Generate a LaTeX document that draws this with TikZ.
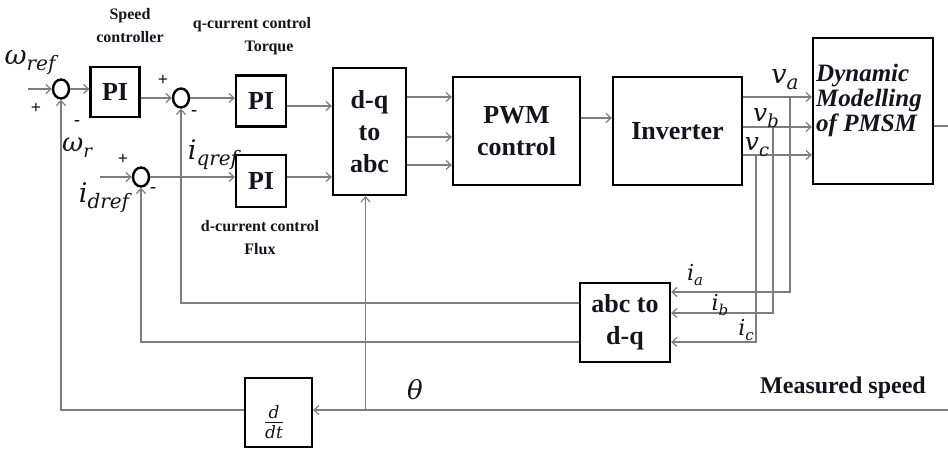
\documentclass[tikz,border=0pt]{standalone}
\usepackage{fontspec}
\setmainfont{Liberation Serif}
\newfontfamily\dvfont{DejaVu Serif}
\usepackage{amsmath}
\usetikzlibrary{arrows.meta,calc,shapes.geometric}
\definecolor{figwire}{RGB}{125,125,125}
\definecolor{figink}{RGB}{20,20,28}
\tikzset{
  blk/.style  ={draw=black,line width=2.2pt,fill=white,inner sep=0pt,align=center,
                text=figink,font=\bfseries\fontsize{26}{32}\selectfont},
  sumc/.style ={ellipse,draw=black,line width=2.4pt,inner sep=0pt,minimum width=16pt,minimum height=19pt},
  wire/.style ={draw=figwire,line width=1.4pt},
  sig/.style  ={wire,-{Straight Barb[length=5pt,width=9pt,line width=1.2pt]}},
  ttl/.style  ={inner sep=0pt,align=center,text=figink,font=\bfseries\fontsize{16}{23}\selectfont},
  sgn/.style  ={inner sep=0pt,text=figink,font=\bfseries\fontsize{18}{18}\selectfont},
  var/.style  ={inner sep=0pt,text=figink},
}
\newcommand{\vlab}[4]{{\dvfont\itshape\fontsize{#1}{#1}\selectfont #3\raisebox{-0.22em}{\fontsize{#2}{#2}\selectfont #4}}}
\newcommand{\dtfrac}{{\dvfont\itshape\fontsize{17}{17}\selectfont
  $\genfrac{}{}{1.3pt}{}{\hbox{d}\rule[-2pt]{0pt}{2pt}}{\hbox{dt}\rule{0pt}{14pt}}$}}

\begin{document}
\begin{tikzpicture}[x=1pt,y=-1pt]
  \useasboundingbox (0,0) rectangle (948,448);
  % blocks
  \node[sumc] (S1) at (61,89) {};
  \node[blk,minimum width=49pt,minimum height=50pt] (PIw) at (115,92) {PI};
  \node[sumc] (S2) at (181,98) {};
  \node[blk,minimum width=50pt,minimum height=51pt] (PIq) at (261,101) {PI};
  \node[sumc] (S3) at (141,177) {};
  \node[blk,minimum width=50pt,minimum height=52pt] (PId) at (261,181) {PI};
  \node[blk,minimum width=73pt,minimum height=127pt] (DQ) at (369.5,131.5) {d-q\\to\\abc};
  \node[blk,minimum width=127pt,minimum height=108pt] (PWM) at (516.5,131) {PWM\\control};
  \node[blk,minimum width=129pt,minimum height=108pt] (INV) at (677.5,131) {Inverter};
  \node[blk,minimum width=120pt,minimum height=146pt] (PM) at (873,111) {};
  \node[var,align=left,anchor=west,font=\bfseries\itshape\fontsize{25}{25}\selectfont] (PMtxt) at (816,100) {Dynamic\\Modelling\\of PMSM};
  \node[blk,minimum width=90pt,minimum height=79pt] (ABC) at (625,322.5) {abc to\\d-q};
  \node[blk,minimum width=67pt,minimum height=69pt] (DDT) at (278.5,412.5) {};
  \node[var] (DDTtxt) at (274,422) {\dtfrac};
  % free ends
  \coordinate (wIn) at (28,89);
  \coordinate (dIn) at (100,177);
  \coordinate (outR) at (948,126);
  \coordinate (spdR) at (948,410);
  % forward path
  \draw[sig] (wIn) -- (S1);
  \draw[sig] (S1) -- (S1 -| PIw.west);
  \draw[sig] (PIw.east |- S2) -- (S2);
  \draw[sig] (S2) -- (S2 -| PIq.west);
  \draw[sig] (dIn) -- (S3);
  \draw[sig] (S3) -- (S3 -| PId.west);
  \draw[sig] ([yshift=-5pt]PIq.east) -- ([yshift=-5pt]PIq.east -| DQ.west);
  \draw[sig] (PId.east |- S3) -- (S3 -| DQ.west);
  \foreach \yy in {97,137,165}
    \draw[sig] (DQ.east |- 0,\yy) -- (PWM.west |- 0,\yy);
  \draw[sig] (PWM.east |- 0,118) -- (INV.west |- 0,118);
  \foreach \n/\yy/\xx/\yi in {a/97/790/292,b/127/773/313,c/155/756/342}{
    \draw[sig] (INV.east |- 0,\yy) -- (PM.west |- 0,\yy);
    \coordinate (t\n) at (\xx,\yy);
    \draw[sig] (t\n) |- (ABC.east |- 0,\yi);
  }
  \draw[wire] (PM.east |- outR) -- (outR);
  % feedback
  \draw[sig] (ABC.west |- 0,303) -| (S2);
  \draw[sig] (ABC.west |- 0,342) -| (S3);
  \draw[sig] (spdR) -- (DDT.east |- spdR);
  \draw[sig] (DDT.west |- spdR) -| (S1);
  \draw[sig] ([xshift=-4pt]DQ.south |- spdR) -- ([xshift=-4pt]DQ.south);
  % texts
  \node[ttl] (tSpd) at (130,26) {Speed\\controller};
  \node[ttl] (tQa) at (252,25) {q-current control};
  \node[ttl] (tQb) at (269,48) {Torque};
  \node[ttl] (tD) at (260,238) {d-current control\\Flux};
  \node[ttl,font=\bfseries\fontsize{24}{24}\selectfont] (tMs) at (843,388) {Measured speed};
  \node[var] (lwr) at (30,63) {\vlab{27}{20}{ω}{ref}};
  \node[var] (lw) at (77,148) {\vlab{26}{18}{ω}{r}};
  \node[var] (liq) at (213,155) {\vlab{27}{20}{i}{qref}};
  \node[var] (lid) at (104,198) {\vlab{27}{20}{i}{dref}};
  \node[var] (lva) at (785,80) {\vlab{27}{20}{v}{a}};
  \node[var] (lvb) at (766,118) {\vlab{25}{18}{v}{b}};
  \node[var] (lvc) at (757,147) {\vlab{25}{18}{v}{c}};
  \node[var] (lia) at (695,275) {\vlab{22}{15}{i}{a}};
  \node[var] (lib) at (720,305) {\vlab{22}{15}{i}{b}};
  \node[var] (lic) at (746,330) {\vlab{22}{15}{i}{c}};
  \node[var] (lth) at (415,390) {\dvfont\itshape\fontsize{26}{26}\selectfont θ};
  \node[sgn] (p1) at (36,108) {+};
  \node[sgn] (m1) at (77,123) {-};
  \node[sgn] (p2) at (163,80) {+};
  \node[sgn] (m2) at (194,113) {-};
  \node[sgn] (p3) at (123,159) {+};
  \node[sgn] (m3) at (153,190) {-};
\end{tikzpicture}
\end{document}
